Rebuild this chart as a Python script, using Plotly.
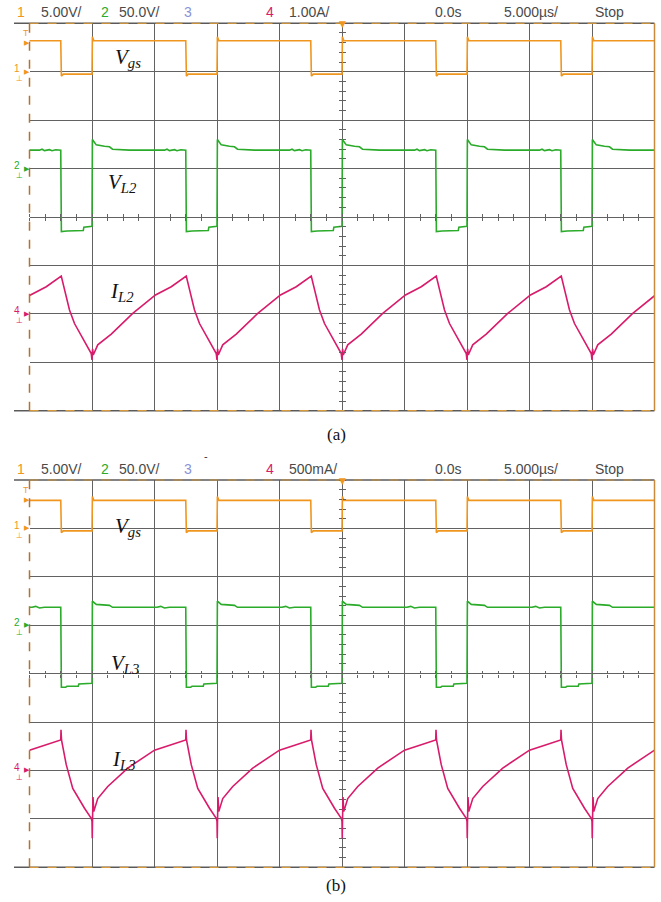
import plotly.graph_objects as go

W, H = 661, 902

# ---------------- data ----------------
# time axis in microseconds, 0 at the screen centre (5 us/div, 10 div)
rise_times = [-30, -20, -10, 0, 10, 20]          # Vgs rising edges = start of each cycle

# (a) one switching cycle, dt measured from the Vgs rising edge
vgs_a_dt  = [0.0, 0.03, 0.15, 7.5, 7.55, 7.7, 10.0]
vgs_a_val = [-0.25, 3.6, 3.2, 3.2, -0.45, -0.25, -0.25]            # V (5 V/div)

vl2_dt  = [0.0, 0.03, 0.34, 1.0, 1.4, 1.64, 3.0, 5.8, 6.0, 6.2, 6.6, 6.8, 7.1, 7.5, 7.55, 8.0, 9.3, 9.35, 10.0]
vl2_val = [-59.5, 30, 24.5, 23, 22.5, 20, 19, 19, 20, 18.5, 19.5, 18.5, 19.5, 19, -65, -64.5, -64, -60.5, -59.5]  # V (50 V/div)

il2_dt  = [0.0, 0.05, 0.1, 0.46, 1.54, 3.26, 5.08, 6.34, 7.54, 8.2, 8.6, 9.94, 10.0]
il2_val = [-0.95, -0.72, -0.85, -0.64, -0.42, 0.01, 0.39, 0.56, 0.78, 0.08, -0.2, -0.82, -0.95]  # A (1 A/div)

# (b)
vgs_b_dt  = [0.0, 0.03, 0.15, 7.5, 7.55, 7.7, 10.0]
vgs_b_val = [-0.25, 3.3, 2.9, 2.9, -0.45, -0.25, -0.25]            # V (5 V/div)

vl3_dt  = [0.0, 0.03, 0.34, 1.4, 1.64, 3.0, 5.2, 5.5, 5.8, 6.2, 7.5, 7.55, 7.9, 8.0, 8.9, 8.95, 10.0]
vl3_val = [-60, 25, 21.5, 20.5, 18.5, 18.5, 18.5, 19.5, 17.8, 18.5, 18.5, -64, -64, -63, -63, -60.75, -60]  # V (50 V/div)

il3_dt  = [0.0, 0.02, 0.04, 0.08, 0.14, 0.46, 1.26, 2.86, 5.0, 6.34, 7.5, 7.52, 7.56, 7.94, 8.46, 9.4, 9.94, 10.0]
il3_val = [-0.525, -0.7, -0.525, -0.275, -0.425, -0.29, -0.165, 0.025, 0.21, 0.265, 0.315, 0.42, 0.315, 0.06, -0.185, -0.39, -0.495, -0.525]  # A (500 mA/div)

# channel ranges over the 8 vertical divisions (set by each channel's ground position)
ch1_range = [-35, 5]      # 5 V/div, ground +3 div
ch2_range = [-250, 150]   # 50 V/div, ground +1 div
ch4a_range = [-2, 6]      # 1 A/div, ground -2 div
ch4b_range = [-1, 3]      # 500 mA/div, ground -2 div

header_a = [("1", 15, "#f0961e"), ("5.00V/", 39, "#4a4a4a"), ("2", 99, "#2aab2a"), ("50.0V/", 117, "#4a4a4a"),
            ("3", 182, "#8a93d8"), ("4", 264, "#d81b6a"), ("1.00A/", 287, "#4a4a4a"),
            ("0.0s", 433, "#4a4a4a"), ("5.000µs/", 502, "#4a4a4a"), ("Stop", 593, "#4a4a4a")]
header_b = [("1", 15, "#f0961e"), ("5.00V/", 39, "#4a4a4a"), ("2", 99, "#2aab2a"), ("50.0V/", 117, "#4a4a4a"),
            ("3", 182, "#8a93d8"), ("4", 264, "#d81b6a"), ("500mA/", 287, "#4a4a4a"),
            ("0.0s", 433, "#4a4a4a"), ("5.000µs/", 502, "#4a4a4a"), ("Stop", 593, "#4a4a4a")]

# ---------------- styling ----------------
C1, C2, C4 = "#f0961e", "#2aab2a", "#d81b6a"
GRID = "#626262"
LBL_FONT = "Liberation Serif, Times New Roman, serif"
HDR_FONT = "Liberation Sans, Arial, sans-serif"

def px(x):
    return x / W

def py(y):
    return 1 - y / H

X0, X1 = 29.5, 654.5
panels = {
    "a": dict(top=23.3, bot=410.7),
    "b": dict(top=480.0, bot=867.3),
}


def tile(dts, vals):
    xs, ys = [], []
    for r in rise_times:
        xs += [r + d for d in dts]
        ys += list(vals)
    return xs, ys


fig = go.Figure()

def xaxis_cfg(domain_y_c, side, grid, overlay=None):
    d = dict(domain=[px(X0), px(X1)], range=[-25, 25], anchor="free", position=domain_y_c, side=side,
             showgrid=grid, gridcolor=GRID, gridwidth=1, tick0=0, dtick=5,
             ticks="outside", ticklen=3, tickwidth=1, tickcolor=GRID,
             minor=dict(dtick=1.25, ticks="outside", ticklen=3, tickwidth=1, tickcolor=GRID, showgrid=False),
             showticklabels=False, showline=False, zeroline=False, fixedrange=True)
    if overlay:
        d["overlaying"] = overlay
    return d


def yaxis_cfg(dom, rng, dtick, minor, side, grid, overlay=None, visible=True):
    d = dict(range=rng, anchor="free", position=px((X0 + X1) / 2), side=side,
             showgrid=grid, gridcolor=GRID, gridwidth=1, tick0=0, dtick=dtick,
             ticks="outside", ticklen=3, tickwidth=1, tickcolor=GRID,
             minor=dict(dtick=minor, ticks="outside", ticklen=3, tickwidth=1, tickcolor=GRID, showgrid=False),
             showticklabels=False, showline=False, zeroline=False, fixedrange=True, visible=visible)
    if overlay:
        d["overlaying"] = overlay
    else:
        d["domain"] = dom
    return d


def axname(a):
    return ("xaxis" if a[0] == "x" else "yaxis") + a[1:]


layout = dict(width=W, height=H, margin=dict(l=0, r=0, t=0, b=0, autoexpand=False), paper_bgcolor="white",
              plot_bgcolor="white", showlegend=False)
annotations = []
shapes = []

specs = [
    ("a", "x", "x2", "y", "y2", "y3", ch4a_range,
     (vgs_a_dt, vgs_a_val), (vl2_dt, vl2_val), (il2_dt, il2_val), header_a,
     ["<i>V<sub>gs</sub></i>", "<i>V<sub>L2</sub></i>", "<i>I<sub>L2</sub></i>"],
     [(128, 58), (122, 183), (122, 292)], "(a)", 435),
    ("b", "x3", "x4", "y4", "y5", "y6", ch4b_range,
     (vgs_b_dt, vgs_b_val), (vl3_dt, vl3_val), (il3_dt, il3_val), header_b,
     ["<i>V<sub>gs</sub></i>", "<i>V<sub>L3</sub></i>", "<i>I<sub>L3</sub></i>"],
     [(128, 527), (125, 664), (124, 760)], "(b)", 885),
]

for (key, xa, xb, ya, yb, yc, ch4_rng, s1, s2, s4, header, labels, lpos, cap, capy) in specs:
    p = panels[key]
    top, bot = p["top"], p["bot"]
    yc_pix = (top + bot) / 2
    dom = [py(bot), py(top)]
    hdr_y = top - 11.5

    layout[axname(xa)] = xaxis_cfg(py(yc_pix), "bottom", True)
    layout[axname(xb)] = xaxis_cfg(py(yc_pix), "top", False, overlay=xa)
    layout[axname(ya)] = yaxis_cfg(dom, ch1_range, 5, 1, "left", True)
    layout[axname(yb)] = yaxis_cfg(dom, ch2_range, 50, 10, "right", False, overlay=ya)
    layout[axname(yc)] = yaxis_cfg(dom, ch4_rng, 1, 0.2, "left", False, overlay=ya, visible=False)

    # axis carrying the upward centre ticks
    fig.add_trace(go.Scatter(x=[], y=[], xaxis=xb, yaxis=ya, hoverinfo="skip"))

    x1, v1 = tile(*s1)
    x2, v2 = tile(*s2)
    x4, v4 = tile(*s4)
    fig.add_trace(go.Scatter(x=x1, y=v1, xaxis=xa, yaxis=ya, mode="lines",
                             line=dict(color=C1, width=1.6), hoverinfo="skip"))
    fig.add_trace(go.Scatter(x=x2, y=v2, xaxis=xa, yaxis=yb, mode="lines",
                             line=dict(color=C2, width=1.6), hoverinfo="skip"))
    fig.add_trace(go.Scatter(x=x4, y=v4, xaxis=xa, yaxis=yc, mode="lines",
                             line=dict(color=C4, width=1.6), hoverinfo="skip"))

    # frame
    shapes += [
        dict(type="line", xref="paper", yref="paper", x0=px(14), x1=px(X1), y0=py(top), y1=py(top),
             line=dict(color="#5a5a5a", width=1.5)),
        dict(type="line", xref="paper", yref="paper", x0=px(14), x1=px(X1), y0=py(bot), y1=py(bot),
             line=dict(color="#5a5a5a", width=1.5)),
        dict(type="line", xref="paper", yref="paper", x0=px(X0), x1=px(X1), y0=py(top), y1=py(top),
             line=dict(color="#c8903a", width=1.2, dash="dash")),
        dict(type="line", xref="paper", yref="paper", x0=px(X0), x1=px(X1), y0=py(bot), y1=py(bot),
             line=dict(color="#d89a3a", width=1.2, dash="dash")),
        dict(type="line", xref="paper", yref="paper", x0=px(X0), x1=px(X0), y0=py(bot), y1=py(top),
             line=dict(color="#b8702a", width=1.5, dash="dash")),
        dict(type="line", xref="paper", yref="paper", x0=px(X1), x1=px(X1), y0=py(bot), y1=py(top),
             line=dict(color="#c98a3c", width=1.5)),
    ]

    # header
    for txt, hx, col in header:
        annotations.append(dict(text=txt, x=px(hx), y=py(hdr_y), xref="paper", yref="paper",
                                xanchor="left", yanchor="middle", showarrow=False,
                                font=dict(family=HDR_FONT, size=14, color=col)))

    # channel ground markers
    for num, col, yref in (("1", C1, ya), ("2", C2, yb), ("4", C4, yc)):
        annotations.append(dict(text=num, x=px(17), y=0, xref="paper", yref=yref, xanchor="center",
                                yanchor="middle", yshift=3, showarrow=False,
                                font=dict(family=HDR_FONT, size=10, color=col)))
        annotations.append(dict(text="▶", x=px(26.5), y=0, xref="paper", yref=yref, xanchor="center",
                                yanchor="middle", showarrow=False,
                                font=dict(family="DejaVu Sans", size=7, color=col)))
        annotations.append(dict(text="⊥", x=px(19), y=0, xref="paper", yref=yref, xanchor="center",
                                yanchor="middle", yshift=-7, showarrow=False,
                                font=dict(family="DejaVu Sans", size=8, color=col)))
    # trigger markers
    annotations.append(dict(text="T", x=px(26), y=py(top + 10), xref="paper", yref="paper",
                            xanchor="center", yanchor="middle", showarrow=False,
                            font=dict(family=HDR_FONT, size=9, color=C1)))
    annotations.append(dict(text="▶", x=px(26.5), y=py(top + 20), xref="paper", yref="paper",
                            xanchor="center", yanchor="middle", showarrow=False,
                            font=dict(family="DejaVu Sans", size=7, color=C1)))
    annotations.append(dict(text="▼", x=0, y=py(top + 1), xref=xa, yref="paper",
                            xanchor="center", yanchor="middle", showarrow=False,
                            font=dict(family="DejaVu Sans", size=9, color=C1)))

    # signal labels
    for t, (lx, ly) in zip(labels, lpos):
        annotations.append(dict(text=t, x=px(lx), y=py(ly), xref="paper", yref="paper",
                                xanchor="center", yanchor="middle", showarrow=False,
                                font=dict(family=LBL_FONT, size=21, color="#111")))
    # caption
    annotations.append(dict(text=cap, x=px(336), y=py(capy), xref="paper", yref="paper",
                            xanchor="center", yanchor="middle", showarrow=False,
                            font=dict(family=LBL_FONT, size=17, color="#111")))

annotations.append(dict(text="-", x=px(206), y=py(456), xref="paper", yref="paper", xanchor="center",
                        yanchor="middle", showarrow=False, font=dict(family=HDR_FONT, size=11, color="#333")))

layout["annotations"] = annotations
layout["shapes"] = shapes
fig.update_layout(**layout)
fig.write_html("out.html", config={"displayModeBar": False},
               post_script="document.body.style.margin='0';document.body.style.overflow='hidden';")
